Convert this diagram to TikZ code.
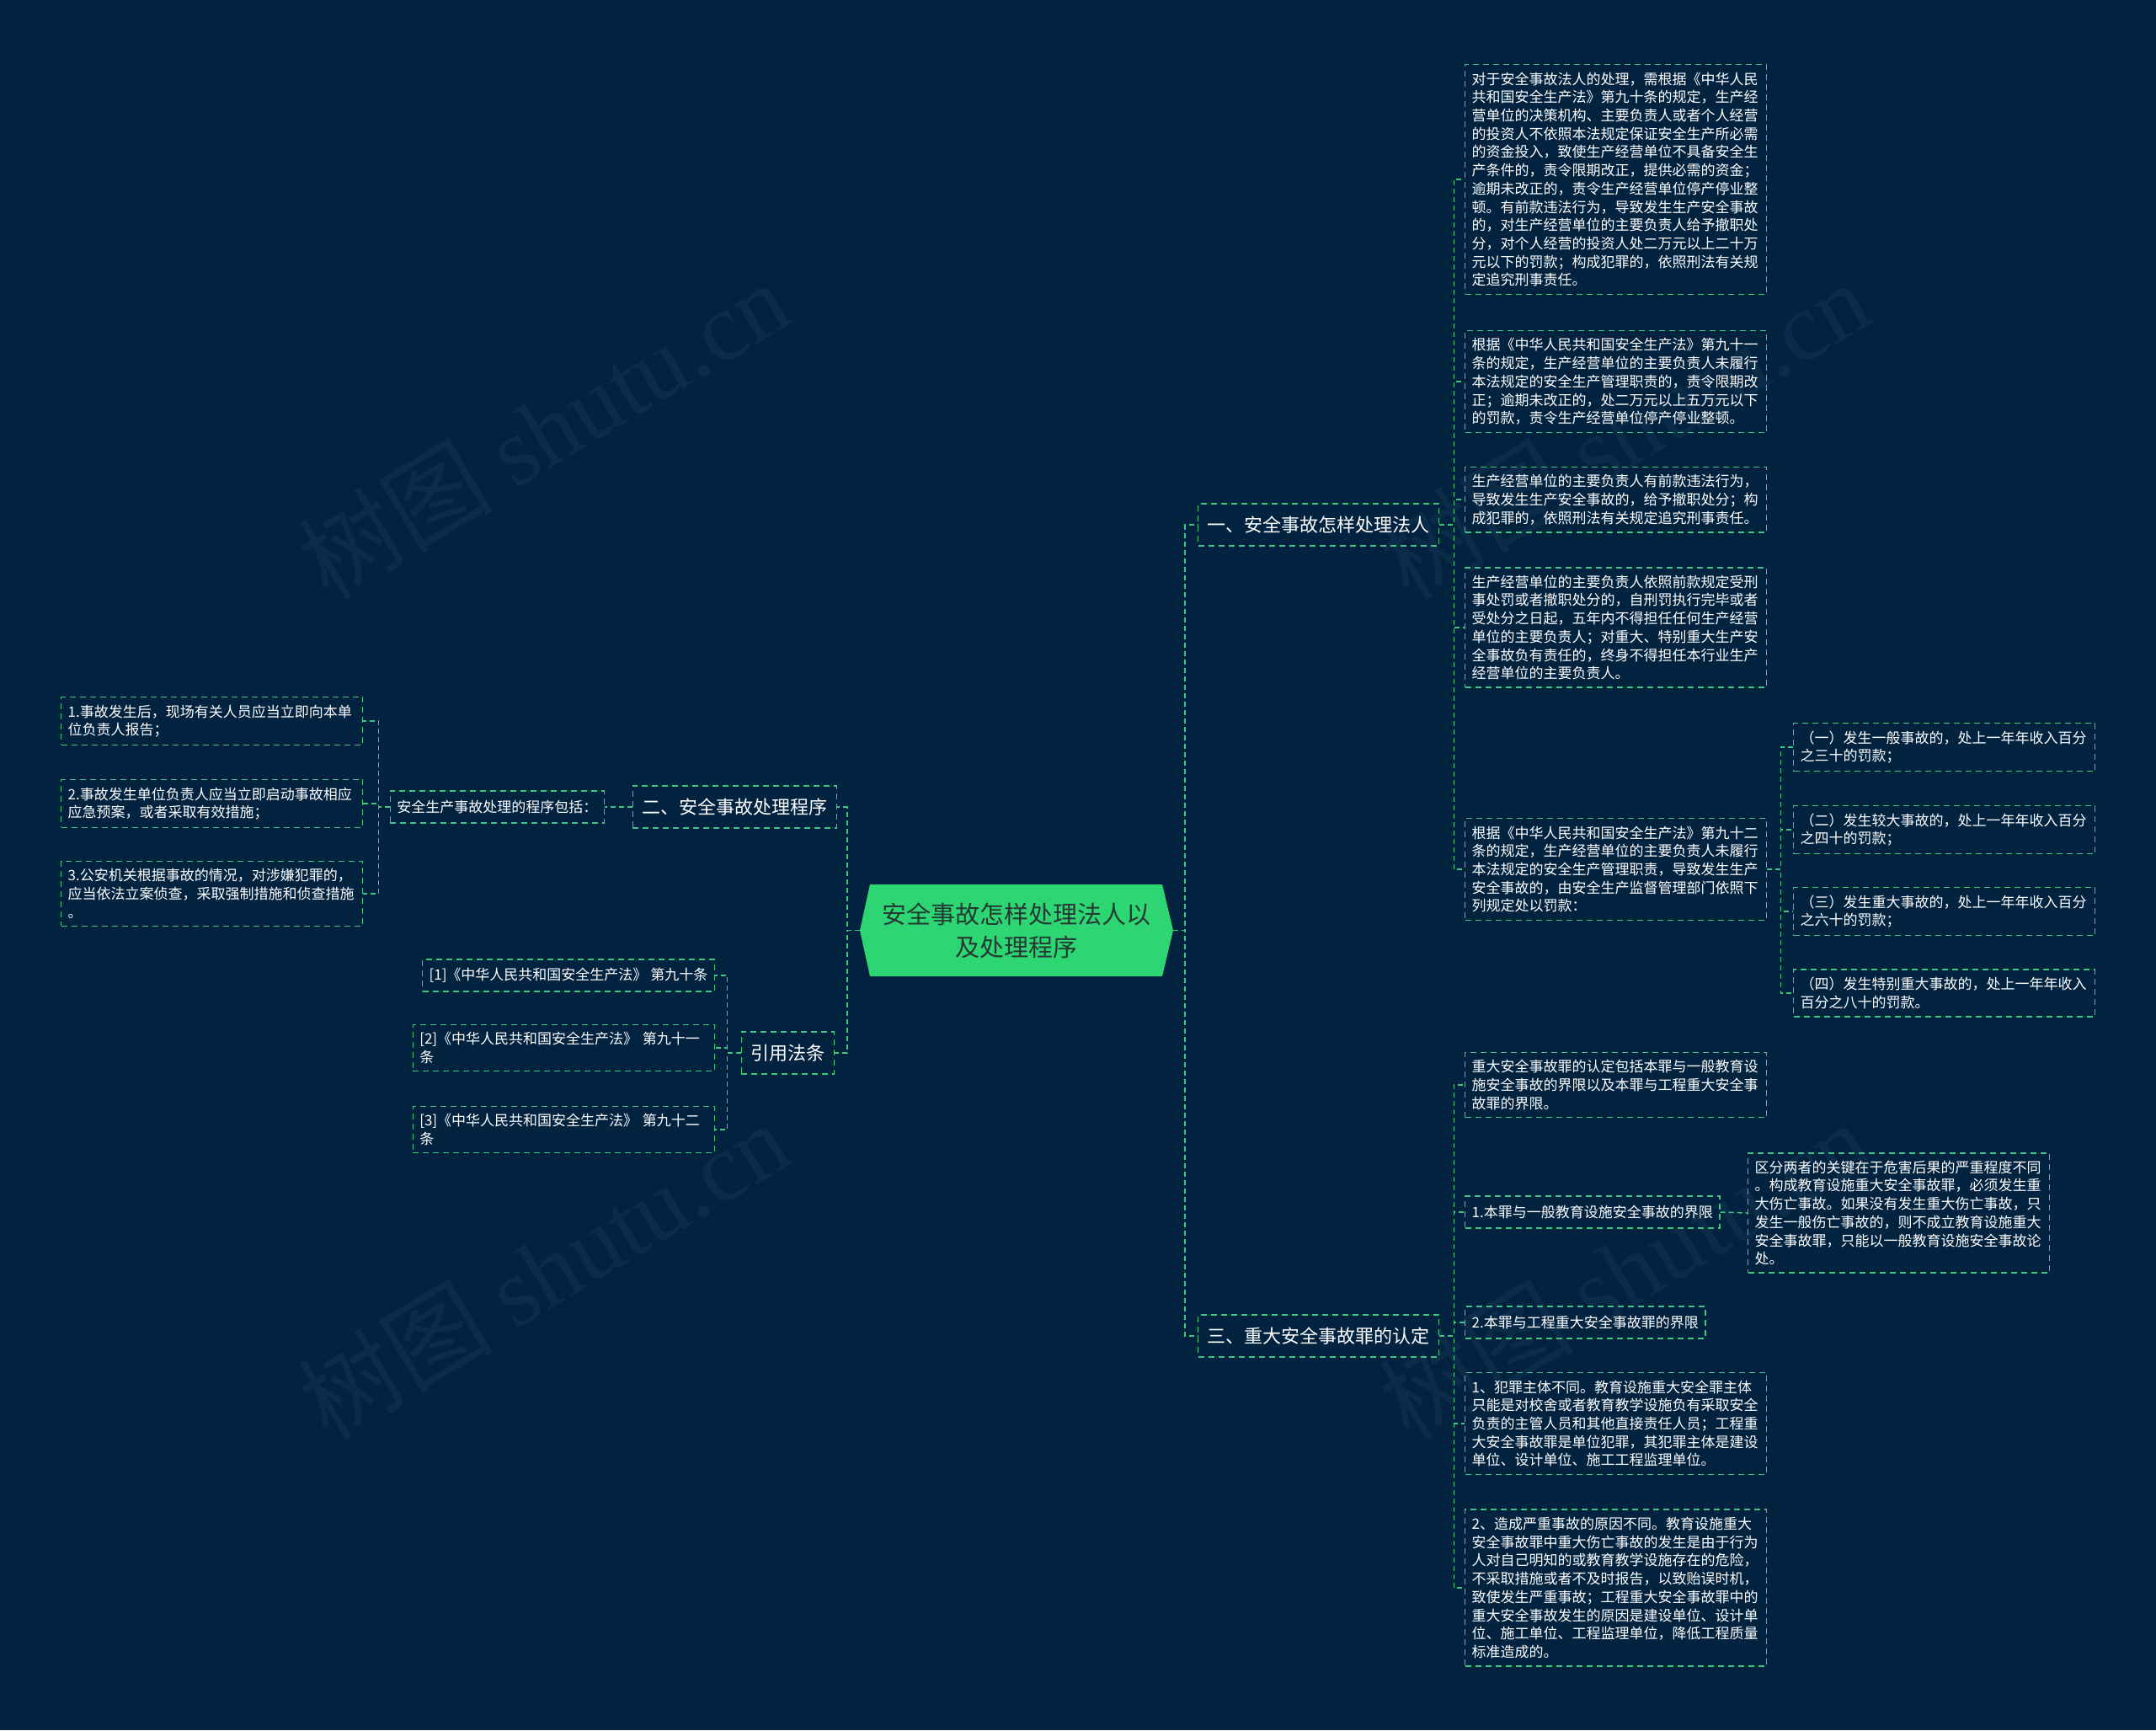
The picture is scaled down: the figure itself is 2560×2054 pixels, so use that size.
\documentclass[tikz,border=0pt]{standalone}
\usepackage{fontspec}
\setmainfont{Noto Sans CJK SC}
\newfontfamily\wmfont{Liberation Serif}
\usetikzlibrary{calc}
\definecolor{bgc}{RGB}{1,35,64}
\definecolor{lg}{RGB}{64,196,128}
\definecolor{rootg}{RGB}{46,213,115}
\definecolor{roottxt}{RGB}{36,56,52}
\begin{document}
\begin{tikzpicture}[x=1pt,y=-1pt,
 conn/.style={draw=lg, line width=1.5pt, dash pattern=on 6pt off 4pt},
 box/.style={draw=lg, line width=1.4pt, dash pattern=on 7pt off 5pt, text=white, align=left},
 leaf/.style={box, font=\fontsize{17}{21.7}\selectfont, inner xsep=8pt, inner ysep=9pt},
 wide/.style={leaf, text width=342pt},
 oneline/.style={leaf, minimum height=38pt},
 lone/.style={box, font=\fontsize{22}{26}\selectfont, inner xsep=11pt, minimum height=50pt},
 roottext/.style={text=roottxt, font=\fontsize{29}{39}\selectfont, align=center, minimum width=372pt, minimum height=109pt, inner sep=0pt},
 wm/.style={text=white, opacity=0.045, font=\fontsize{116}{120}\selectfont, rotate=31}
]
\useasboundingbox (0,0) rectangle (2560,2054);
\fill[bgc] (0,0) rectangle (2560,2054);

% watermarks
\node[wm] at (645,510) {树图 {\wmfont shutu.cn}};
\node[wm] at (645,1508) {树图 {\wmfont shutu.cn}};
\node[wm] at (1928,510) {树图 {\wmfont shutu.cn}};
\node[wm] at (1928,1508) {树图 {\wmfont shutu.cn}};

% root
\fill[rootg] (1033,1050) -- (1380,1050) -- (1393,1104.5) -- (1380,1159) -- (1033,1159) -- (1021,1104.5) -- cycle;
\node[roottext] (root) at (1207,1104.5) {安全事故怎样处理法人以\\及处理程序};

% level 1
\node[lone, anchor=west] (n1) at (1422,623) {一、安全事故怎样处理法人};
\node[lone, anchor=east] (n2) at (994,958) {二、安全事故处理程序};
\node[lone, anchor=east] (n3) at (991,1250) {引用法条};
\node[lone, anchor=west] (n4) at (1422,1586) {三、重大安全事故罪的认定};

% branch one
\node[wide, anchor=west] (a1) at (1739,213) {对于安全事故法人的处理，需根据《中华人民\\共和国安全生产法》第九十条的规定，生产经\\营单位的决策机构、主要负责人或者个人经营\\的投资人不依照本法规定保证安全生产所必需\\的资金投入，致使生产经营单位不具备安全生\\产条件的，责令限期改正，提供必需的资金；\\逾期未改正的，责令生产经营单位停产停业整\\顿。有前款违法行为，导致发生生产安全事故\\的，对生产经营单位的主要负责人给予撤职处\\分，对个人经营的投资人处二万元以上二十万\\元以下的罚款；构成犯罪的，依照刑法有关规\\定追究刑事责任。};
\node[wide, anchor=west] (a2) at (1739,453) {根据《中华人民共和国安全生产法》第九十一\\条的规定，生产经营单位的主要负责人未履行\\本法规定的安全生产管理职责的，责令限期改\\正；逾期未改正的，处二万元以上五万元以下\\的罚款，责令生产经营单位停产停业整顿。};
\node[wide, anchor=west] (a3) at (1739,593) {生产经营单位的主要负责人有前款违法行为，\\导致发生生产安全事故的，给予撤职处分；构\\成犯罪的，依照刑法有关规定追究刑事责任。};
\node[wide, anchor=west] (a4) at (1739,745) {生产经营单位的主要负责人依照前款规定受刑\\事处罚或者撤职处分的，自刑罚执行完毕或者\\受处分之日起，五年内不得担任任何生产经营\\单位的主要负责人；对重大、特别重大生产安\\全事故负有责任的，终身不得担任本行业生产\\经营单位的主要负责人。};
\node[wide, anchor=west] (a5) at (1739,1032) {根据《中华人民共和国安全生产法》第九十二\\条的规定，生产经营单位的主要负责人未履行\\本法规定的安全生产管理职责，导致发生生产\\安全事故的，由安全生产监督管理部门依照下\\列规定处以罚款：};
\node[wide, anchor=west] (e1) at (2129,887) {（一）发生一般事故的，处上一年年收入百分\\之三十的罚款；};
\node[wide, anchor=west] (e2) at (2129,985) {（二）发生较大事故的，处上一年年收入百分\\之四十的罚款；};
\node[wide, anchor=west] (e3) at (2129,1082) {（三）发生重大事故的，处上一年年收入百分\\之六十的罚款；};
\node[wide, anchor=west] (e4) at (2129,1179) {（四）发生特别重大事故的，处上一年年收入\\百分之八十的罚款。};

% branch two
\node[oneline, anchor=east] (b0) at (718,958) {安全生产事故处理的程序包括：};
\node[wide, anchor=west] (b1) at (72,856) {1.事故发生后，现场有关人员应当立即向本单\\位负责人报告；};
\node[wide, anchor=west] (b2) at (72,954) {2.事故发生单位负责人应当立即启动事故相应\\应急预案，或者采取有效措施；};
\node[wide, anchor=west] (b3) at (72,1061) {3.公安机关根据事故的情况，对涉嫌犯罪的，\\应当依法立案侦查，采取强制措施和侦查措施\\。};

% branch three (laws)
\node[oneline, anchor=east] (d1) at (849,1158) {[1]《中华人民共和国安全生产法》 第九十条};
\node[wide, anchor=east] (d2) at (849,1244) {[2]《中华人民共和国安全生产法》 第九十一\\条};
\node[wide, anchor=east] (d3) at (849,1341) {[3]《中华人民共和国安全生产法》 第九十二\\条};

% branch four
\node[wide, anchor=west] (c1) at (1739,1288) {重大安全事故罪的认定包括本罪与一般教育设\\施安全事故的界限以及本罪与工程重大安全事\\故罪的界限。};
\node[oneline, anchor=west] (c2) at (1739,1439) {1.本罪与一般教育设施安全事故的界限};
\node[wide, anchor=west] (c2x) at (2075,1440) {区分两者的关键在于危害后果的严重程度不同\\。构成教育设施重大安全事故罪，必须发生重\\大伤亡事故。如果没有发生重大伤亡事故，只\\发生一般伤亡事故的，则不成立教育设施重大\\安全事故罪，只能以一般教育设施安全事故论\\处。};
\node[oneline, anchor=west] (c3) at (1739,1570) {2.本罪与工程重大安全事故罪的界限};
\node[wide, anchor=west] (c4) at (1739,1690) {1、犯罪主体不同。教育设施重大安全罪主体\\只能是对校舍或者教育教学设施负有采取安全\\负责的主管人员和其他直接责任人员；工程重\\大安全事故罪是单位犯罪，其犯罪主体是建设\\单位、设计单位、施工工程监理单位。};
\node[wide, anchor=west] (c5) at (1739,1885) {2、造成严重事故的原因不同。教育设施重大\\安全事故罪中重大伤亡事故的发生是由于行为\\人对自己明知的或教育教学设施存在的危险，\\不采取措施或者不及时报告，以致贻误时机，\\致使发生严重事故；工程重大安全事故罪中的\\重大安全事故发生的原因是建设单位、设计单\\位、施工单位、工程监理单位，降低工程质量\\标准造成的。};

% connectors
\foreach \c in {n1,n4} \draw[conn] (root.east) -- ++(14,0) |- (\c.west);
\foreach \c in {n2,n3} \draw[conn] (root.west) -- ++(-15,0) |- (\c.east);
\foreach \c in {a1,a2,a3,a4,a5} \draw[conn] (n1.east) -- ++(17,0) |- (\c.west);
\foreach \c in {e1,e2,e3,e4} \draw[conn] (a5.east) -- ++(16,0) |- (\c.west);
\foreach \c in {c1,c2,c3,c4,c5} \draw[conn] (n4.east) -- ++(17,0) |- (\c.west);
\draw[conn] (c2.east) -- (c2x.west);
\draw[conn] (n2.west) -- (b0.east);
\foreach \c in {b1,b2,b3} \draw[conn] (b0.west) -- ++(-13,0) |- (\c.east);
\foreach \c in {d1,d2,d3} \draw[conn] (n3.west) -- ++(-16,0) |- (\c.east);
\end{tikzpicture}
\end{document}
